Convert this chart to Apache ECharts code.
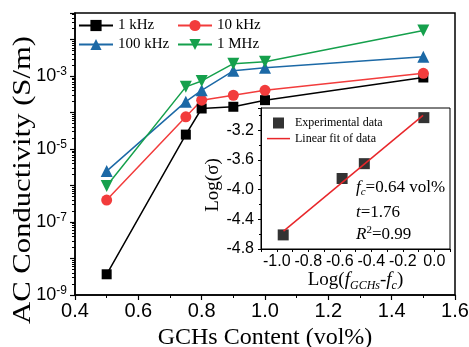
<!DOCTYPE html>
<html><head><meta charset="utf-8">
<script src="https://cdn.jsdelivr.net/npm/echarts@6/dist/echarts.min.js"></script>
<style>html,body{margin:0;padding:0;background:#fff}#c{width:469px;height:347px}</style>
</head><body><div id="c"></div>
<script>
// ---- data ----
const content = [0.5, 0.75, 0.8, 0.9, 1.0, 1.5];           // GCHs content (vol%)
const s1kHz   = [3.7e-9, 2.5e-5, 1.3e-4, 1.45e-4, 2.2e-4, 9.2e-4];
const s10kHz  = [4.0e-7, 7.7e-5, 2.2e-4, 3.0e-4, 4.1e-4, 1.2e-3];
const s100kHz = [2.5e-6, 2.0e-4, 4.1e-4, 1.4e-3, 1.7e-3, 3.4e-3];
const s1MHz   = [9.8e-7, 5.1e-4, 7.4e-4, 2.2e-3, 2.5e-3, 1.8e-2];
const insetLogF     = [-0.959, -0.585, -0.444, -0.066];    // Log(f_GCHs - f_c)
const insetLogSigma = [-4.61, -3.85, -3.65, -3.03];        // Log(sigma)
const fitLogF     = [-0.957, -0.071];
const fitLogSigma = [-4.56, -3.00];
const seriesNames = ['1 kHz', '10 kHz', '100 kHz', '1 MHz'];
const annotations = ['{i|f}{sb|c}{n|=0.64 vol%}', '{i|t}{n|=1.76}', '{i|R}{sp|2}{n|=0.99}'];
const yTitle = 'AC Conductivity (S/m)';

const serif = 'Liberation Serif';
const sans = 'Liberation Sans';
const chart = echarts.init(document.getElementById('c'), null, {renderer: 'canvas'});

function mainSeries(name, vals, color, symbol, size, rotate) {
  return {
    name, type: 'line', xAxisIndex: 0, yAxisIndex: 0,
    data: content.map((x, i) => [x, vals[i]]),
    symbol, symbolSize: size, symbolRotate: rotate || 0, showSymbol: true,
    lineStyle: {color, width: 1.5}, itemStyle: {color, borderWidth: 0},
    animation: false
  };
}

const black = '#000000', red = '#f23c3c', blue = '#1c69a6', green = '#15a04c';

const option = {
  backgroundColor: '#fff',
  animation: false,
  grid: [
    {left: 75, top: 13, right: 14, bottom: 52, show: true, borderColor: '#000', borderWidth: 1.5,
      backgroundColor: 'transparent', outerBoundsMode: 'none', containLabel: false},
    {left: 261, top: 108, right: 19, bottom: 98, show: true, borderColor: '#000', borderWidth: 1,
      backgroundColor: '#fff', outerBoundsMode: 'none', containLabel: false}
  ],
  xAxis: [
    {
      gridIndex: 0, type: 'value', min: 0.4, max: 1.6, interval: 0.2,
      axisLine: {show: true, onZero: false, lineStyle: {color: '#000', width: 1.5}},
      axisTick: {show: true, inside: false, length: 5, lineStyle: {color: '#000', width: 1.2}},
      minorTick: {show: true, splitNumber: 2, length: 3, lineStyle: {color: '#000', width: 1}},
      splitLine: {show: false}, minorSplitLine: {show: false},
      axisLabel: {fontFamily: sans, fontSize: 20, color: '#000', margin: 6, formatter: v => v.toFixed(1)},
      name: 'GCHs Content (vol%)', nameLocation: 'middle', nameGap: 30,
      nameTextStyle: {fontFamily: serif, fontSize: 24, color: '#000'}
    },
    {
      gridIndex: 1, type: 'value', min: -1.1, max: 0.1, interval: 0.1,
      axisLine: {show: true, onZero: false, lineStyle: {color: '#000', width: 1}},
      axisTick: {show: true, inside: false, length: 3, lineStyle: {color: '#000', width: 1}},
      splitLine: {show: false},
      axisLabel: {fontFamily: sans, fontSize: 16, color: '#000', margin: 5, showMinLabel: true, showMaxLabel: true,
        formatter: v => { const k = Math.round(v * 10); return (k % 2 === 0) ? (k / 10).toFixed(1) : ''; }},
      name: '{n|Log(}{i|f}{sb|GCHs}{n|-}{i|f}{sb|c}{n|)}', nameLocation: 'middle', nameGap: 12,
      nameTextStyle: {
        fontFamily: serif, fontSize: 19, color: '#000',
        rich: {
          n: {fontFamily: serif, fontSize: 19, lineHeight: 22, color: '#000'},
          i: {fontFamily: serif, fontSize: 19, lineHeight: 22, fontStyle: 'italic', color: '#000'},
          sb: {fontFamily: serif, fontSize: 12, lineHeight: 12, fontStyle: 'italic', verticalAlign: 'bottom', color: '#000'}
        }
      }
    }
  ],
  yAxis: [
    {
      gridIndex: 0, type: 'log', logBase: 10, min: 1e-9, max: 0.054, interval: 1,
      axisLine: {show: true, onZero: false, lineStyle: {color: '#000', width: 1.5}},
      axisTick: {show: true, inside: false, length: 5, lineStyle: {color: '#000', width: 1.2}},
      minorTick: {show: true, splitNumber: 9, length: 3, lineStyle: {color: '#000', width: 1}},
      splitLine: {show: false}, minorSplitLine: {show: false},
      axisLabel: {
        margin: 8,
        formatter: v => {
          const l = Math.log10(v); const e = Math.round(l);
          if (Math.abs(l - e) > 1e-6 || Math.abs(e) % 2 !== 1) return '';
          return '{b|10}{s|' + e + '}';
        },
        rich: {
          b: {fontFamily: sans, fontSize: 18, lineHeight: 20, color: '#000'},
          s: {fontFamily: sans, fontSize: 12, lineHeight: 12, verticalAlign: 'top', color: '#000'}
        }
      }
    },
    {
      gridIndex: 1, type: 'value', min: -4.8, max: -2.9, interval: 0.4,
      axisLine: {show: true, onZero: false, lineStyle: {color: '#000', width: 1}},
      axisTick: {show: true, inside: false, length: 3, lineStyle: {color: '#000', width: 1}},
      minorTick: {show: true, splitNumber: 2, length: 2, lineStyle: {color: '#000', width: 1}},
      splitLine: {show: false}, minorSplitLine: {show: false},
      axisLabel: {fontFamily: sans, fontSize: 16, color: '#000', margin: 7,
        formatter: v => { const k = Math.round(v * 10); return (Math.abs(v * 10 - k) < 1e-6 && k % 4 === 0) ? v.toFixed(1) : ''; }},
      name: 'Log(σ)', nameLocation: 'middle', nameRotate: 90, nameGap: 37,
      nameTextStyle: {fontFamily: serif, fontSize: 19, color: '#000', padding: [0, 13, 0, 0]}
    }
  ],
  legend: [
    {data: ['1 kHz', '100 kHz'], orient: 'vertical', left: 78, top: 18, padding: 0,
      itemWidth: 34, itemHeight: 14, itemGap: 4, textStyle: {fontFamily: serif, fontSize: 15, color: '#000'}},
    {data: ['10 kHz', '1 MHz'], orient: 'vertical', left: 177, top: 18, padding: 0,
      itemWidth: 34, itemHeight: 14, itemGap: 4, textStyle: {fontFamily: serif, fontSize: 15, color: '#000'}},
    {data: [{name: 'Experimental data', icon: 'path://M0,0h10v10h-10z'}, {name: 'Linear fit of data', icon: 'path://M0,0h23v1.5h-23z'}],
      orient: 'vertical', left: 267, top: 117, padding: 0,
      itemWidth: 23, itemHeight: 11, itemGap: 3.6, textStyle: {fontFamily: serif, fontSize: 12, color: '#000'}}
  ],
  series: [
    mainSeries(seriesNames[0], s1kHz, black, 'rect', 10),
    mainSeries(seriesNames[1], s10kHz, red, 'circle', 11),
    mainSeries(seriesNames[2], s100kHz, blue, 'triangle', 12),
    mainSeries(seriesNames[3], s1MHz, green, 'triangle', 12, 180),
    {
      name: 'Linear fit of data', type: 'line', xAxisIndex: 1, yAxisIndex: 1,
      data: fitLogF.map((x, i) => [x, fitLogSigma[i]]), symbol: 'none',
      lineStyle: {color: '#e8262a', width: 1.5}, itemStyle: {color: '#e8262a'}, z: 3
    },
    {
      name: 'Experimental data', type: 'scatter', xAxisIndex: 1, yAxisIndex: 1,
      data: insetLogF.map((x, i) => [x, insetLogSigma[i]]), symbol: 'rect', symbolSize: 11,
      itemStyle: {color: '#000'}, z: 2
    }
  ],
  graphic: annotations.map((t, i) => ({
    type: 'text', x: 356, y: [188, 212.5, 235][i], z: 10,
    style: {
      text: t, align: 'left', verticalAlign: 'middle', fill: '#000',
      rich: {
        n: {fontFamily: serif, fontSize: 17, lineHeight: 20, fill: '#000'},
        i: {fontFamily: serif, fontSize: 17, lineHeight: 20, fontStyle: 'italic', fill: '#000'},
        sb: {fontFamily: serif, fontSize: 11, lineHeight: 11, fontStyle: 'italic', verticalAlign: 'bottom', fill: '#000'},
        sp: {fontFamily: serif, fontSize: 11, lineHeight: 11, verticalAlign: 'top', fill: '#000'}
      }
    }
  })).concat([{
    type: 'text', x: 23, y: 180, rotation: Math.PI / 2, scaleX: 1.18, scaleY: 1, z: 10,
    style: {text: yTitle, fontFamily: serif, fontSize: 26, align: 'center', verticalAlign: 'middle', fill: '#000'}
  }])
};
chart.setOption(option);
</script>
</body></html>
